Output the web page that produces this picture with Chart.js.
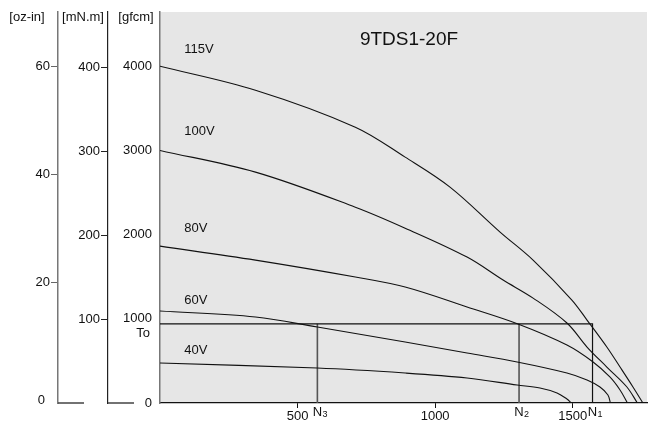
<!DOCTYPE html>
<html>
<head>
<meta charset="utf-8">
<script src="https://cdn.jsdelivr.net/npm/chart.js@4.4.0/dist/chart.umd.min.js"></script>
<style>
  html, body { margin: 0; padding: 0; background: #fff; }
  #wrap { width: 655px; height: 427px; }
</style>
</head>
<body>
<div id="wrap"><canvas id="torqueChart"></canvas></div>
<script>
// speed [rpm] vs torque [gfcm]
const voltages = ['115V', '100V', '80V', '60V', '40V'];
const speed115 = [0, 347, 710, 891, 1054, 1236, 1356, 1497, 1552, 1624, 1672, 1719, 1755];
const torque115 = [4000, 3715, 3276, 2920, 2564, 2030, 1697, 1223, 985, 665, 427, 190, 0];
const speed100 = [0, 347, 710, 891, 1116, 1247, 1356, 1479, 1552, 1624, 1697, 1735];
const torque100 = [3000, 2742, 2326, 2077, 1733, 1460, 1246, 950, 665, 427, 190, 0];
const speed80 = [0, 347, 710, 891, 1116, 1301, 1479, 1574, 1635, 1672, 1699];
const torque80 = [1863, 1697, 1496, 1377, 1140, 938, 688, 487, 309, 154, 0];
const speed60 = [0, 347, 572, 891, 1116, 1298, 1479, 1552, 1599, 1628, 1637];
const torque60 = [1092, 1021, 902, 724, 593, 487, 356, 273, 190, 95, 0];
const speed40 = [0, 572, 891, 1116, 1298, 1381, 1443, 1479, 1495];
const torque40 = [475, 415, 356, 297, 214, 178, 119, 47, 0];

// rated torque To and speeds N1..N3
const ratedTorque = 940;
const nSpeeds = [1572, 1305, 572];
const nNames = ['1', '2', '3'];

// tick labels
const speedTicks = [500, 1000, 1500];
const gfcmTicks = [0, 1000, 2000, 3000, 4000];
const mnmTicks = [100, 200, 300, 400];
const ozinTicks = [20, 40, 60];

// where the voltage names sit (rpm, gfcm)
const labelSpeed = 88;
const labelTorque = [4202, 3228, 2077, 1222, 629];

const FONT = "'Liberation Sans', Arial, sans-serif";
Chart.defaults.font.family = FONT;
Chart.defaults.font.size = 13;
Chart.defaults.color = '#111';

function toPoints(xs, ys) {
    return xs.map((x, i) => ({ x: x, y: ys[i] }));
}

const curveData = [
    toPoints(speed115, torque115),
    toPoints(speed100, torque100),
    toPoints(speed80, torque80),
    toPoints(speed60, torque60),
    toPoints(speed40, torque40)
];

const datasets = curveData.map((pts, i) => ({
    label: voltages[i],
    data: pts,
    borderColor: '#111',
    borderWidth: 1.1,
    pointRadius: 0,
    fill: false,
    tension: 0.35
}));

// To line with N1 drop
datasets.push({
    label: 'To',
    data: [{ x: 0, y: ratedTorque }, { x: nSpeeds[0], y: ratedTorque }, { x: nSpeeds[0], y: 0 }],
    borderColor: '#111',
    borderWidth: 1.2,
    pointRadius: 0,
    tension: 0
});
[nSpeeds[1], nSpeeds[2]].forEach(n => {
    datasets.push({
        label: 'N',
        data: [{ x: n, y: ratedTorque }, { x: n, y: 0 }],
        borderColor: '#555',
        borderWidth: 1.6,
        pointRadius: 0,
        tension: 0
    });
});

const decor = {
    id: 'decor',
    beforeDraw(chart) {
        const { ctx, chartArea: a } = chart;
        ctx.save();
        ctx.fillStyle = '#e6e6e6';
        ctx.fillRect(a.left, a.top, a.right - a.left, a.bottom - a.top);
        ctx.restore();
    },
    afterDraw(chart) {
        const { ctx, chartArea: a, scales } = chart;
        const sx = scales.x, sy = scales.y, sm = scales.mnm, so = scales.ozin;
        ctx.save();
        ctx.fillStyle = '#111';
        ctx.font = '13px ' + FONT;
        ctx.textBaseline = 'middle';

        // axis unit titles
        ctx.textAlign = 'center';
        ctx.fillText('[oz-in]', 27, 17);
        ctx.fillText('[mN.m]', 83, 17);
        ctx.fillText('[gfcm]', 136, 17);

        // zero of the oz-in scale and To
        ctx.textAlign = 'right';
        ctx.fillText('0', so.right - 13, 400);
        ctx.fillText('To', sy.right - 10, sy.getPixelForValue(ratedTorque) + 10);

        // short base lines of the outer scales
        ctx.strokeStyle = '#444';
        ctx.lineWidth = 1.5;
        ctx.beginPath();
        ctx.moveTo(so.right, a.bottom); ctx.lineTo(so.right + 26, a.bottom);
        ctx.moveTo(sm.right, a.bottom); ctx.lineTo(sm.right + 26, a.bottom);
        ctx.stroke();

        // voltage names
        ctx.textAlign = 'left';
        labelTorque.forEach((t, i) => {
            ctx.fillText(voltages[i], sx.getPixelForValue(labelSpeed), sy.getPixelForValue(t));
        });

        // N1..N3 under the axis
        nSpeeds.forEach((n, i) => {
            const px = sx.getPixelForValue(n);
            ctx.font = '13px ' + FONT;
            ctx.textAlign = 'center';
            ctx.fillText('N', px, a.bottom + 9);
            ctx.font = '9px ' + FONT;
            ctx.textAlign = 'left';
            ctx.fillText(nNames[i], px + 5, a.bottom + 12);
        });

        // title
        ctx.font = '19px ' + FONT;
        ctx.textAlign = 'center';
        ctx.fillText('9TDS1-20F', 409, 40);
        ctx.restore();
    }
};

function fixedTicks(values) {
    return function(scale) {
        scale.ticks = values.map(v => ({ value: v }));
    };
}

const plainLabel = v => String(v);

new Chart(document.getElementById('torqueChart'), {
    type: 'line',
    data: { datasets: datasets },
    plugins: [decor],
    options: {
        responsive: true,
        maintainAspectRatio: false,
        animation: false,
        layout: { padding: { top: 12, right: 8, bottom: 0, left: 0 } },
        plugins: {
            legend: { display: false },
            tooltip: { enabled: false }
        },
        scales: {
            x: {
                type: 'linear',
                min: 0,
                max: 1770,
                afterBuildTicks: fixedTicks(speedTicks),
                afterFit: function(scale) { scale.height = 24; },
                grid: { drawOnChartArea: false, tickLength: 5, color: '#111' },
                border: { color: '#111', width: 1.2 },
                ticks: { padding: 1, callback: plainLabel }
            },
            y: {
                type: 'linear',
                position: 'left',
                weight: 0,
                min: 0,
                max: 4644,
                afterBuildTicks: fixedTicks(gfcmTicks),
                afterFit: function(scale) { scale.width = 52; },
                grid: { drawOnChartArea: false, tickLength: 8, color: 'rgba(0,0,0,0)' },
                border: { color: '#777', width: 1.5 },
                ticks: { padding: 0, callback: plainLabel }
            },
            mnm: {
                type: 'linear',
                position: 'left',
                weight: 1,
                min: 0,
                max: 465.8,
                afterBuildTicks: fixedTicks(mnmTicks),
                afterFit: function(scale) { scale.width = 50; },
                grid: { drawOnChartArea: false, tickLength: 7, color: '#222' },
                border: { color: '#222', width: 1.2 },
                ticks: { padding: 1, callback: plainLabel }
            },
            ozin: {
                type: 'linear',
                position: 'left',
                weight: 2,
                min: -2.4,
                max: 70,
                afterBuildTicks: fixedTicks(ozinTicks),
                afterFit: function(scale) { scale.width = 58; },
                grid: { drawOnChartArea: false, tickLength: 7, color: '#666' },
                border: { color: '#777', width: 1.5 },
                ticks: { padding: 1, callback: plainLabel }
            }
        }
    }
});
</script>
</body>
</html>
